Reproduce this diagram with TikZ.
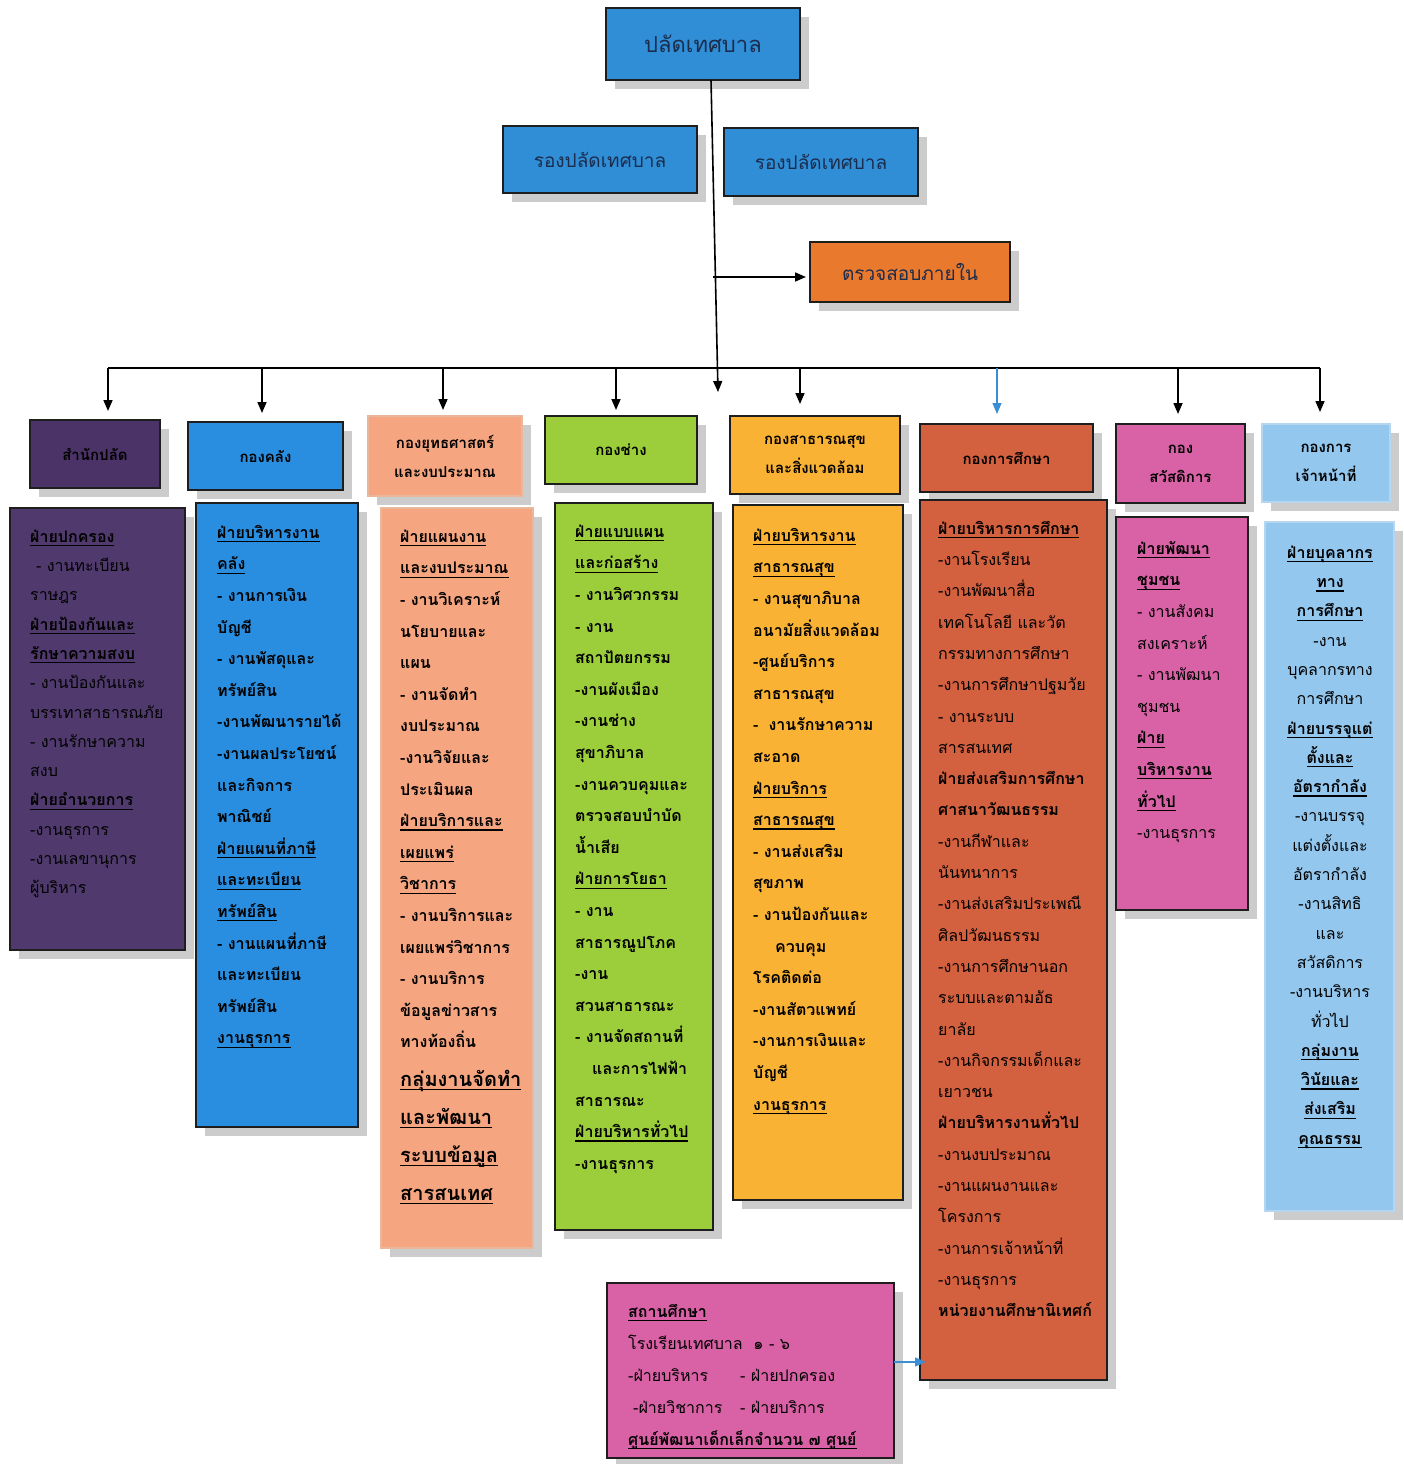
\documentclass[tikz,border=0pt]{standalone}
\usepackage{fontspec}
\setmainfont[Script=Thai]{Loma}
\usetikzlibrary{arrows.meta,shadows}
\definecolor{edge}{HTML}{1E1E1E}
\definecolor{cTop}{HTML}{2F8ED6}
\definecolor{cTopTxt}{HTML}{1C2C4C}
\definecolor{cAudit}{HTML}{E8792D}
\definecolor{cPur}{HTML}{4B3368}
\definecolor{cPurD}{HTML}{503A6D}
\definecolor{cBlu}{HTML}{2A8EE0}
\definecolor{cSal}{HTML}{F5A57F}
\definecolor{cSalE}{HTML}{E9B89A}
\definecolor{cGrn}{HTML}{9BCE3A}
\definecolor{cOra}{HTML}{FAB234}
\definecolor{cRed}{HTML}{D3603E}
\definecolor{cPnk}{HTML}{D862A5}
\definecolor{cLbl}{HTML}{93C7EE}
\definecolor{cLblE}{HTML}{B5D6EE}
\definecolor{cArrB}{HTML}{3A8FD4}
\newcommand\ulin[1]{\setbox0=\hbox{#1}\rlap{\rule[-4pt]{\wd0}{1.3pt}}\box0}
\newcommand\fst{\rule{0pt}{20pt}}
\tikzset{
  box/.style={draw=edge, line width=1.6pt, inner sep=0pt, outer sep=0pt,
    drop shadow={shadow xshift=9pt, shadow yshift=-9pt, fill=black!20, opacity=1}},
  arr/.style={line width=1.6pt, -{Triangle[length=11pt,width=9pt]}},
  toptxt/.style={text=cTopTxt, align=center},
  htxt/.style={font=\bfseries\fontsize{15}{29}\selectfont, align=center},
  col/.style={anchor=north west, inner sep=0pt, align=left, text=black, font=\fontsize{16}{31.6}\selectfont},
}
\begin{document}
\begin{tikzpicture}[x=1pt,y=-1pt]
\useasboundingbox[fill=white] (0,0) rectangle (1404,1464);

% top boxes
\node[box, fill=cTop, minimum width=194pt, minimum height=72pt, toptxt, font=\fontsize{22}{26}\selectfont] (plat) at (703,44) {ปลัดเทศบาล};
\node[box, fill=cTop, minimum width=194pt, minimum height=67pt, toptxt, font=\fontsize{19}{23}\selectfont] (rong1) at (600,159.5) {รองปลัดเทศบาล};
\node[box, fill=cTop, minimum width=194pt, minimum height=68pt, toptxt, font=\fontsize{19}{23}\selectfont] (rong2) at (821,162) {รองปลัดเทศบาล};
\node[box, fill=cAudit, minimum width=200pt, minimum height=60pt, toptxt, font=\fontsize{19}{23}\selectfont] (audit) at (910,272) {ตรวจสอบภายใน};

% connectors from top
\coordinate (cT) at (711,80);
\coordinate (cB) at (718,392);
\coordinate (cA) at (713,277);
\draw[arr] (cT) -- (cB);
\draw[arr, shorten >=4pt] (cA) -- (cA -| audit.west);

% header boxes
\node[box, fill=cPur, text=black, minimum width=130pt, minimum height=68pt, htxt] (h1) at (95,454) {สำนักปลัด};
\node[box, fill=cBlu, minimum width=155pt, minimum height=68pt, htxt] (h2) at (265.5,456) {กองคลัง};
\node[box, draw=cSalE, fill=cSal, minimum width=154pt, minimum height=80pt, htxt] (h3) at (445,456) {กองยุทธศาสตร์\\และงบประมาณ};
\node[box, fill=cGrn, minimum width=152pt, minimum height=68pt, htxt] (h4) at (621,450) {กองช่าง};
\node[box, fill=cOra, minimum width=170pt, minimum height=78pt, htxt] (h5) at (815,455) {กองสาธารณสุข\\และสิ่งแวดล้อม};
\node[box, fill=cRed, minimum width=173pt, minimum height=68pt, htxt] (h6) at (1006.5,458) {กองการศึกษา};
\node[box, fill=cPnk, minimum width=129pt, minimum height=79pt, htxt] (h7) at (1180.5,463.5) {กอง\\สวัสดิการ};
\node[box, draw=cLblE, fill=cLbl, minimum width=128pt, minimum height=78pt, htxt] (h8) at (1326,463) {กองการ\\เจ้าหน้าที่};

% bus
\coordinate (b1) at (108,368);
\coordinate (b2) at (262,368);
\coordinate (b3) at (443,368);
\coordinate (b4) at (616,368);
\coordinate (b5) at (800,368);
\coordinate (b6) at (997,368);
\coordinate (b7) at (1178,368);
\coordinate (b8) at (1320,368);
\draw[line width=1.6pt] (b1) -- (b8);
\draw[arr, shorten >=9pt] (b1) -- (b1 |- h1.north);
\draw[arr, shorten >=9pt] (b2) -- (b2 |- h2.north);
\draw[arr, shorten >=6pt] (b3) -- (b3 |- h3.north);
\draw[arr, shorten >=6pt] (b4) -- (b4 |- h4.north);
\draw[arr, shorten >=12pt] (b5) -- (b5 |- h5.north);
\draw[arr, draw=cArrB, line width=1.1pt, shorten >=10pt] (b6) -- (b6 |- h6.north);
\draw[arr, shorten >=10pt] (b7) -- (b7 |- h7.north);
\draw[arr, shorten >=12pt] (b8) -- (b8 |- h8.north);

% detail boxes
\node[box, fill=cPurD, minimum width=175pt, minimum height=442pt] (d1) at (97.5,729) {};
\node[box, fill=cBlu, minimum width=162pt, minimum height=624pt] (d2) at (277,815) {};
\node[box, draw=cSalE, fill=cSal, minimum width=152pt, minimum height=740pt] (d3) at (457,878) {};
\node[box, fill=cGrn, minimum width=158pt, minimum height=727pt] (d4) at (634,866.5) {};
\node[box, fill=cOra, minimum width=170pt, minimum height=695pt] (d5) at (818,852.5) {};
\node[box, fill=cRed, minimum width=187pt, minimum height=880pt] (d6) at (1013.5,940) {};
\node[box, fill=cPnk, minimum width=132pt, minimum height=393pt] (d7) at (1182,713.5) {};
\node[box, draw=cLblE, fill=cLbl, minimum width=129pt, minimum height=689pt] (d8) at (1329.5,866.5) {};
\node[box, fill=cPnk, minimum width=287pt, minimum height=175pt] (d9) at (750.5,1370.5) {};

% texts
\node[col, font=\fontsize{16}{29.3}\selectfont] (t1) at (30,522) {\fst\ulin{\bfseries ฝ่ายปกครอง}\\
\hspace{6pt}- งานทะเบียน\\
ราษฎร\\
\ulin{\bfseries ฝ่ายป้องกันและ}\\
\ulin{\bfseries รักษาความสงบ}\\
- งานป้องกันและ\\
บรรเทาสาธารณภัย\\
- งานรักษาความ\\
สงบ\\
\ulin{\bfseries ฝ่ายอำนวยการ}\\
-งานธุรการ\\
-งานเลขานุการ\\
ผู้บริหาร};

\node[col, font=\bfseries\fontsize{16}{31.6}\selectfont] (t2) at (217,518) {\fst\ulin{ฝ่ายบริหารงาน}\\
\ulin{คลัง}\\
- งานการเงิน\\
บัญชี\\
- งานพัสดุและ\\
ทรัพย์สิน\\
-งานพัฒนารายได้\\
-งานผลประโยชน์\\
และกิจการ\\
พาณิชย์\\
\ulin{ฝ่ายแผนที่ภาษี}\\
\ulin{และทะเบียน}\\
\ulin{ทรัพย์สิน}\\
- งานแผนที่ภาษี\\
และทะเบียน\\
ทรัพย์สิน\\
\ulin{งานธุรการ}};

\node[col, font=\bfseries\fontsize{16}{31.6}\selectfont] (t3) at (400,522) {\fst\ulin{ฝ่ายแผนงาน}\\
\ulin{และงบประมาณ}\\
- งานวิเคราะห์\\
นโยบายและ\\
แผน\\
- งานจัดทำ\\
งบประมาณ\\
-งานวิจัยและ\\
ประเมินผล\\
\ulin{ฝ่ายบริการและ}\\
\ulin{เผยแพร่}\\
\ulin{วิชาการ}\\
- งานบริการและ\\
เผยแพร่วิชาการ\\
- งานบริการ\\
ข้อมูลข่าวสาร\\
ทางท้องถิ่น\\[6.8pt]
{\fontsize{20}{24}\selectfont\ulin{กลุ่มงานจัดทำ}}\\[6.4pt]
{\fontsize{20}{24}\selectfont\ulin{และพัฒนา}}\\[6.4pt]
{\fontsize{20}{24}\selectfont\ulin{ระบบข้อมูล}}\\[6.4pt]
{\fontsize{20}{24}\selectfont\ulin{สารสนเทศ}}};

\node[col, font=\bfseries\fontsize{16}{31.6}\selectfont] (t4) at (575,517) {\fst\ulin{ฝ่ายแบบแผน}\\
\ulin{และก่อสร้าง}\\
- งานวิศวกรรม\\
- งาน\\
สถาปัตยกรรม\\
-งานผังเมือง\\
-งานช่าง\\
สุขาภิบาล\\
-งานควบคุมและ\\
ตรวจสอบบำบัด\\
น้ำเสีย\\
\ulin{ฝ่ายการโยธา}\\
- งาน\\
สาธารณูปโภค\\
-งาน\\
สวนสาธารณะ\\
- งานจัดสถานที่\\
\hspace{17pt}และการไฟฟ้า\\
สาธารณะ\\
\ulin{ฝ่ายบริหารทั่วไป}\\
-งานธุรการ};

\node[col, font=\bfseries\fontsize{16}{31.6}\selectfont] (t5) at (753,521) {\fst\ulin{ฝ่ายบริหารงาน}\\
\ulin{สาธารณสุข}\\
- งานสุขาภิบาล\\
อนามัยสิ่งแวดล้อม\\
-ศูนย์บริการ\\
สาธารณสุข\\
-\hspace{10pt}งานรักษาความ\\
สะอาด\\
\ulin{ฝ่ายบริการ}\\
\ulin{สาธารณสุข}\\
- งานส่งเสริม\\
สุขภาพ\\
- งานป้องกันและ\\
\hspace{22pt}ควบคุม\\
โรคติดต่อ\\
-งานสัตวแพทย์\\
-งานการเงินและ\\
บัญชี\\
\ulin{งานธุรการ}};

\node[col, font=\fontsize{16}{31.3}\selectfont] (t6) at (938,514) {\fst\ulin{\bfseries ฝ่ายบริหารการศึกษา}\\
-งานโรงเรียน\\
-งานพัฒนาสื่อ\\
เทคโนโลยี และวัต\\
กรรมทางการศึกษา\\
-งานการศึกษาปฐมวัย\\
- งานระบบ\\
สารสนเทศ\\
{\bfseries ฝ่ายส่งเสริมการศึกษา}\\
{\bfseries ศาสนาวัฒนธรรม}\\
-งานกีฬาและ\\
นันทนาการ\\
-งานส่งเสริมประเพณี\\
ศิลปวัฒนธรรม\\
-งานการศึกษานอก\\
ระบบและตามอัธ\\
ยาลัย\\
-งานกิจกรรมเด็กและ\\
เยาวชน\\
{\bfseries ฝ่ายบริหารงานทั่วไป}\\
-งานงบประมาณ\\
-งานแผนงานและ\\
โครงการ\\
-งานการเจ้าหน้าที่\\
-งานธุรการ\\
{\bfseries หน่วยงานศึกษานิเทศก์}};

\node[col, font=\fontsize{16}{31.6}\selectfont] (t7) at (1137,534) {\fst\ulin{\bfseries ฝ่ายพัฒนา}\\
\ulin{\bfseries ชุมชน}\\
- งานสังคม\\
สงเคราะห์\\
- งานพัฒนา\\
ชุมชน\\
\ulin{\bfseries ฝ่าย}\\
\ulin{\bfseries บริหารงาน}\\
\ulin{\bfseries ทั่วไป}\\
-งานธุรการ};

\node[col, anchor=north, align=center, font=\fontsize{16}{29.3}\selectfont] (t8) at (1330,538) {\fst\ulin{\bfseries ฝ่ายบุคลากร}\\
\ulin{\bfseries ทาง}\\
\ulin{\bfseries การศึกษา}\\
-งาน\\
บุคลากรทาง\\
การศึกษา\\
\ulin{\bfseries ฝ่ายบรรจุแต่}\\
\ulin{\bfseries ตั้งและ}\\
\ulin{\bfseries อัตรากำลัง}\\
-งานบรรจุ\\
แต่งตั้งและ\\
อัตรากำลัง\\
-งานสิทธิ\\
และ\\
สวัสดิการ\\
-งานบริหาร\\
ทั่วไป\\
\ulin{\bfseries กลุ่มงาน}\\
\ulin{\bfseries วินัยและ}\\
\ulin{\bfseries ส่งเสริม}\\
\ulin{\bfseries คุณธรรม}};

\node[col, font=\fontsize{16}{32}\selectfont] (t9) at (628,1297) {\fst\ulin{\bfseries สถานศึกษา}\\
โรงเรียนเทศบาล\ \ ๑ - ๖\\
\makebox[112pt][l]{-ฝ่ายบริหาร}- ฝ่ายปกครอง\\
\hspace{5pt}\makebox[107pt][l]{-ฝ่ายวิชาการ}- ฝ่ายบริการ\\
\ulin{\bfseries ศูนย์พัฒนาเด็กเล็กจำนวน ๗ ศูนย์}};

% school arrow
\coordinate (sA) at ([yshift=8.5pt]d9.east);
\draw[arr, draw=cArrB, line width=1.1pt, shorten >=-6pt] (sA) -- (sA -| d6.west);
\end{tikzpicture}
\end{document}
